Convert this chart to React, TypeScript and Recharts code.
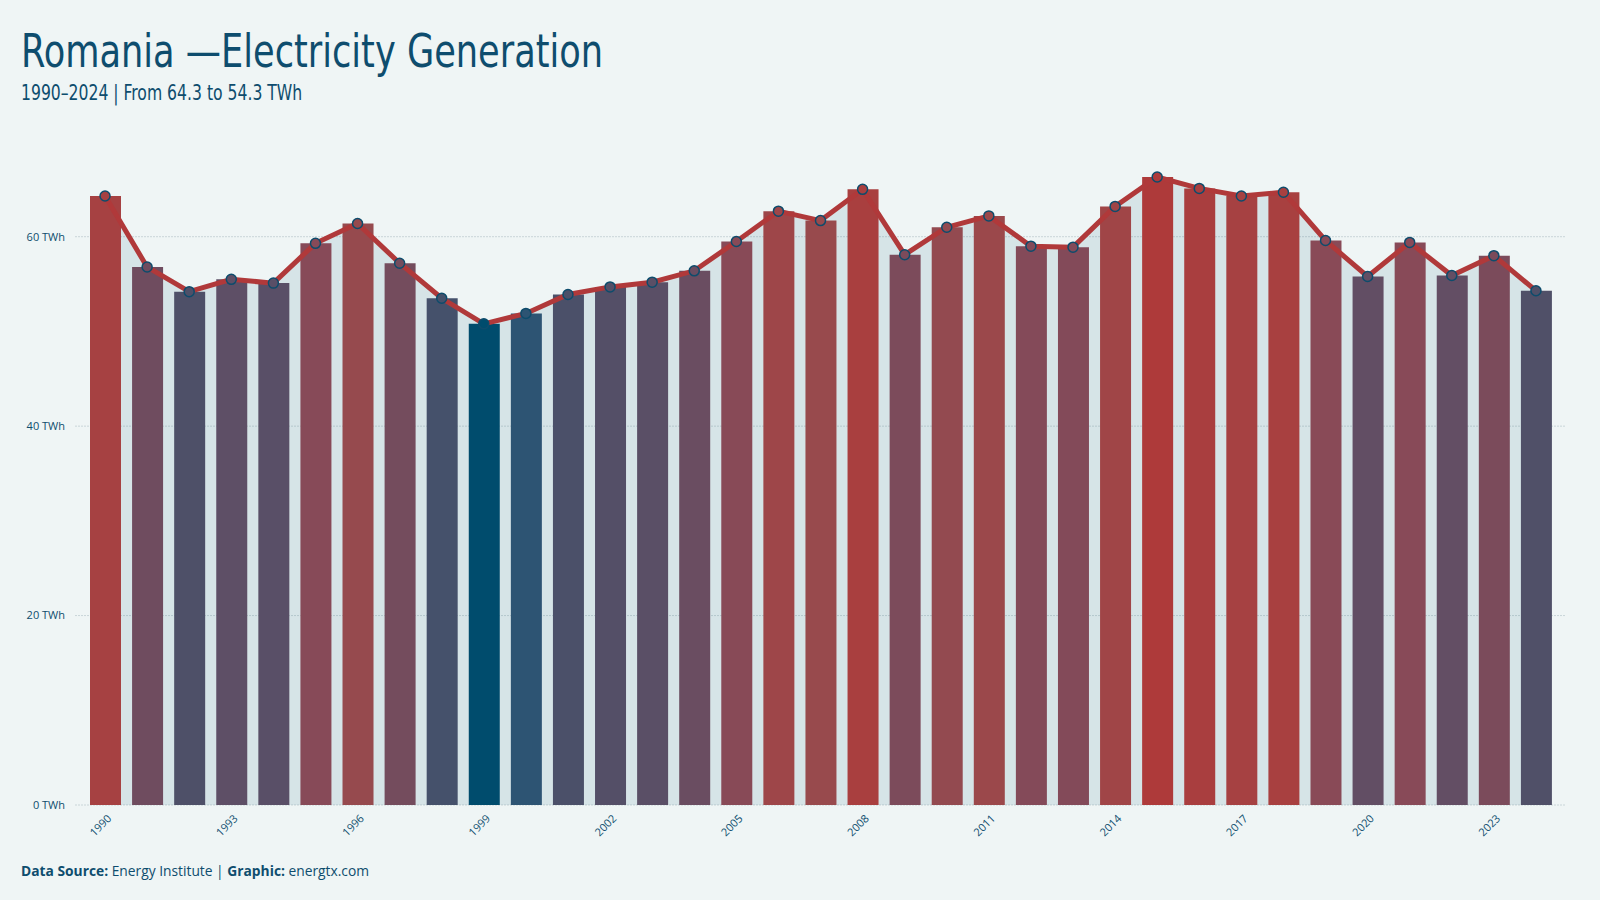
import React from "react";
import {
  ComposedChart,
  Bar,
  Line,
  Area,
  XAxis,
  YAxis,
  CartesianGrid,
  Cell,
} from "recharts";

const years: string[] = [
  "1990", "1991", "1992", "1993", "1994", "1995", "1996", "1997", "1998", "1999",
  "2000", "2001", "2002", "2003", "2004", "2005", "2006", "2007", "2008", "2009",
  "2010", "2011", "2012", "2013", "2014", "2015", "2016", "2017", "2018", "2019",
  "2020", "2021", "2022", "2023", "2024",
];

// Electricity generation, TWh
const generation: number[] = [
  64.3, 56.8, 54.2, 55.5, 55.1, 59.3, 61.4, 57.2, 53.5, 50.8,
  51.9, 53.9, 54.7, 55.2, 56.4, 59.5, 62.7, 61.7, 65.0, 58.1,
  61.0, 62.2, 59.0, 58.9, 63.2, 66.3, 65.1, 64.3, 64.7, 59.6,
  55.8, 59.4, 55.9, 58.0, 54.3,
];

const yTicks: number[] = [0, 20, 40, 60];
const Y_MAX = 70;

const INK = "#0e4d6e";
const BG = "#eff5f5";
const LOW = "#004c6d";
const LINE_RED = "#b0393a";

const CHART_W = 1600;
const CHART_H = 900;
const MARGIN = { top: 142, right: 34, bottom: 0, left: 15 };
const X_AXIS_H = 95;

// colour ramp from lowest (blue) to highest (red) yearly value
const RAMP: [number, string][] = [
  [0, "#004c6d"],
  [0.07, "#2d5473"],
  [0.2, "#4b5069"],
  [0.3, "#5d4f66"],
  [0.4, "#724c5e"],
  [0.55, "#874a58"],
  [0.7, "#984a4d"],
  [0.87, "#a64142"],
  [1, "#ae3a3a"],
];
function hexToRgb(h: string): number[] {
  const n = parseInt(h.slice(1), 16);
  return [(n >> 16) & 255, (n >> 8) & 255, n & 255];
}
const vMin = Math.min(...generation);
const vMax = Math.max(...generation);
function colorFor(v: number) {
  const t = (v - vMin) / (vMax - vMin);
  let k = 0;
  while (k < RAMP.length - 2 && t > RAMP[k + 1][0]) k++;
  const [t0, c0] = RAMP[k];
  const [t1, c1] = RAMP[k + 1];
  const u = Math.max(0, Math.min(1, (t - t0) / (t1 - t0)));
  const a = hexToRgb(c0);
  const b = hexToRgb(c1);
  return (
    "#" +
    a
      .map((x, i) => Math.round(x + (b[i] - x) * u).toString(16).padStart(2, "0"))
      .join("")
  );
}

const data = years.map((year, i) => ({ year, value: generation[i] }));

// horizontal grid lines only at the labelled ticks
function gridRows(p: any): number[] {
  const top = p?.offset?.top ?? MARGIN.top;
  const h = p?.offset?.height ?? CHART_H - MARGIN.top - MARGIN.bottom - X_AXIS_H;
  return yTicks.map((t) => top + h * (1 - t / Y_MAX));
}

const YearTick = (props: any) => {
  const { x, y, payload } = props;
  const ax = x + 4;
  const ay = y + 3;
  return (
    <text
      x={ax}
      y={ay}
      transform={`rotate(-45, ${ax}, ${ay})`}
      textAnchor="end"
      dominantBaseline="central"
      fill={INK}
      fontSize={11}
      fontFamily="'Open Sans', sans-serif"
    >
      {payload.value}
    </text>
  );
};

const ValueDot = (props: any) => {
  const { cx, cy, payload, index } = props;
  if (cx == null || cy == null) return null;
  return (
    <circle
      key={`dot-${index}`}
      cx={cx}
      cy={cy}
      r={5}
      fill={colorFor(payload.value)}
      stroke="#0d4c6c"
      strokeWidth={1.5}
    />
  );
};

export default function App() {
  return (
    <div
      style={{
        position: "fixed",
        left: 0,
        top: 0,
        width: 1600,
        height: 900,
        background: BG,
        overflow: "hidden",
      }}
    >
      <div
        style={{
          position: "absolute",
          left: 21,
          top: 28,
          fontFamily: "'DejaVu Sans Condensed', 'DejaVu Sans', sans-serif",
          fontStretch: "condensed",
          fontSize: 46,
          color: INK,
          whiteSpace: "nowrap",
          lineHeight: 1,
          transform: "scaleX(0.85)",
          transformOrigin: "left top",
        }}
      >
        Romania —Electricity Generation
      </div>
      <div
        style={{
          position: "absolute",
          left: 21,
          top: 82,
          fontFamily: "'DejaVu Sans Condensed', 'DejaVu Sans', sans-serif",
          fontStretch: "condensed",
          fontSize: 22,
          color: INK,
          whiteSpace: "nowrap",
          lineHeight: 1,
          transform: "scaleX(0.79)",
          transformOrigin: "left top",
        }}
      >
        1990–2024 | From 64.3 to 54.3 TWh
      </div>

      <div style={{ position: "absolute", left: 0, top: 0 }}>
        <ComposedChart width={CHART_W} height={CHART_H} data={data} margin={MARGIN}>
          <CartesianGrid
            vertical={false}
            stroke="#c9d5d8"
            strokeDasharray="2 1"
            horizontalCoordinatesGenerator={gridRows}
          />
          <XAxis
            dataKey="year"
            interval={2}
            tickLine={false}
            axisLine={false}
            padding={{ left: 9, right: 9 }}
            tick={<YearTick />}
            height={X_AXIS_H}
          />
          <YAxis
            domain={[0, Y_MAX]}
            ticks={yTicks}
            width={60}
            tickLine={false}
            axisLine={false}
            tickMargin={4}
            tickFormatter={(v: number) => `${v} TWh`}
            tick={{ fill: INK, fontSize: 11, fontFamily: "'Open Sans', sans-serif" }}
          />
          <Area
            type="linear"
            dataKey="value"
            stroke="none"
            fill={LOW}
            fillOpacity={0.1}
            isAnimationActive={false}
          />
          <Bar dataKey="value" barSize={31} isAnimationActive={false}>
            {data.map((d, i) => (
              <Cell key={i} fill={colorFor(d.value)} />
            ))}
          </Bar>
          <Line
            type="linear"
            dataKey="value"
            stroke={LINE_RED}
            strokeWidth={5}
            dot={<ValueDot />}
            activeDot={false}
            isAnimationActive={false}
          />
        </ComposedChart>
      </div>

      <div
        style={{
          position: "absolute",
          left: 21,
          top: 861,
          fontFamily: "'Open Sans', sans-serif",
          fontSize: 13.8,
          color: INK,
          whiteSpace: "nowrap",
        }}
      >
        <b>Data Source:</b> Energy Institute | <b>Graphic:</b> energtx.com
      </div>
    </div>
  );
}
